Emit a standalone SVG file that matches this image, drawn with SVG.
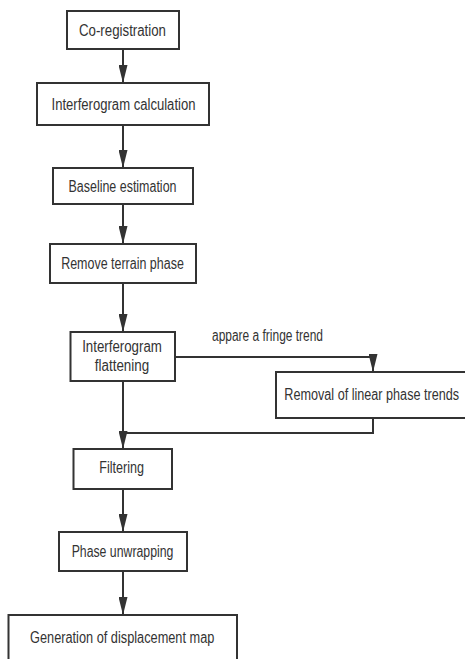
<svg xmlns="http://www.w3.org/2000/svg" width="465" height="659" viewBox="0 0 465 659">
<defs>
<marker id="arr" markerUnits="userSpaceOnUse" markerWidth="18" markerHeight="9" refX="18" refY="4.5" orient="auto">
<path d="M0,0 L18,4.5 L0,9 z" fill="#333"/>
</marker>
<style>
.box{fill:#fff;stroke:#333;stroke-width:2}
.t{font-family:"Liberation Sans",Arial,sans-serif;font-size:16px;fill:#333;text-anchor:middle}
.c{fill:none;stroke:#333;stroke-width:2}
</style>
</defs>
<rect width="465" height="659" fill="#fff"/>
<g id="connectors">
<path class="c" d="M123,49 V83" marker-end="url(#arr)"/>
<path class="c" d="M123,125 V168" marker-end="url(#arr)"/>
<path class="c" d="M123,204 V244" marker-end="url(#arr)"/>
<path class="c" d="M123,283 V332" marker-end="url(#arr)"/>
<path class="c" d="M123,381 V449" marker-end="url(#arr)"/>
<path class="c" d="M123,489 V532" marker-end="url(#arr)"/>
<path class="c" d="M123,571 V615" marker-end="url(#arr)"/>
<path class="c" d="M175,357 H373 V372" marker-end="url(#arr)"/>
<path class="c" d="M373,418 V433 H123"/>
<text class="t" x="267.5" y="341" textLength="111" lengthAdjust="spacingAndGlyphs">appare a fringe trend</text>
</g>
<g id="n1"><rect class="box" x="67" y="11" width="112" height="38"/><text class="t" x="122.5" y="36" textLength="87" lengthAdjust="spacingAndGlyphs">Co-registration</text></g>
<g id="n2"><rect class="box" x="37" y="83" width="172" height="42"/><text class="t" x="123.5" y="109.5" textLength="144" lengthAdjust="spacingAndGlyphs">Interferogram calculation</text></g>
<g id="n3"><rect class="box" x="53" y="168" width="140" height="36"/><text class="t" x="122.5" y="191.5" textLength="108" lengthAdjust="spacingAndGlyphs">Baseline estimation</text></g>
<g id="n4"><rect class="box" x="50" y="244" width="146" height="39"/><text class="t" x="122.5" y="269" textLength="122.7" lengthAdjust="spacingAndGlyphs">Remove terrain phase</text></g>
<g id="n5"><rect class="box" x="70.5" y="332" width="104.5" height="49"/><text class="t" x="122" y="352" textLength="79.7" lengthAdjust="spacingAndGlyphs">Interferogram</text><text class="t" x="122" y="370.5" textLength="54.3" lengthAdjust="spacingAndGlyphs">flattening</text></g>
<g id="n6"><rect class="box" x="276" y="372" width="200" height="46"/><text class="t" x="371.7" y="400" textLength="174.7" lengthAdjust="spacingAndGlyphs">Removal of linear phase trends</text></g>
<g id="n7"><rect class="box" x="73.5" y="449" width="98.5" height="40"/><text class="t" x="121.7" y="473.3" textLength="44.7" lengthAdjust="spacingAndGlyphs">Filtering</text></g>
<g id="n8"><rect class="box" x="59" y="532" width="128" height="39"/><text class="t" x="122.5" y="556.7" textLength="101.7" lengthAdjust="spacingAndGlyphs">Phase unwrapping</text></g>
<g id="n9"><rect class="box" x="8.5" y="615" width="228.5" height="60"/><text class="t" x="122.2" y="643.3" textLength="184.3" lengthAdjust="spacingAndGlyphs">Generation of displacement map</text></g>
</svg>
